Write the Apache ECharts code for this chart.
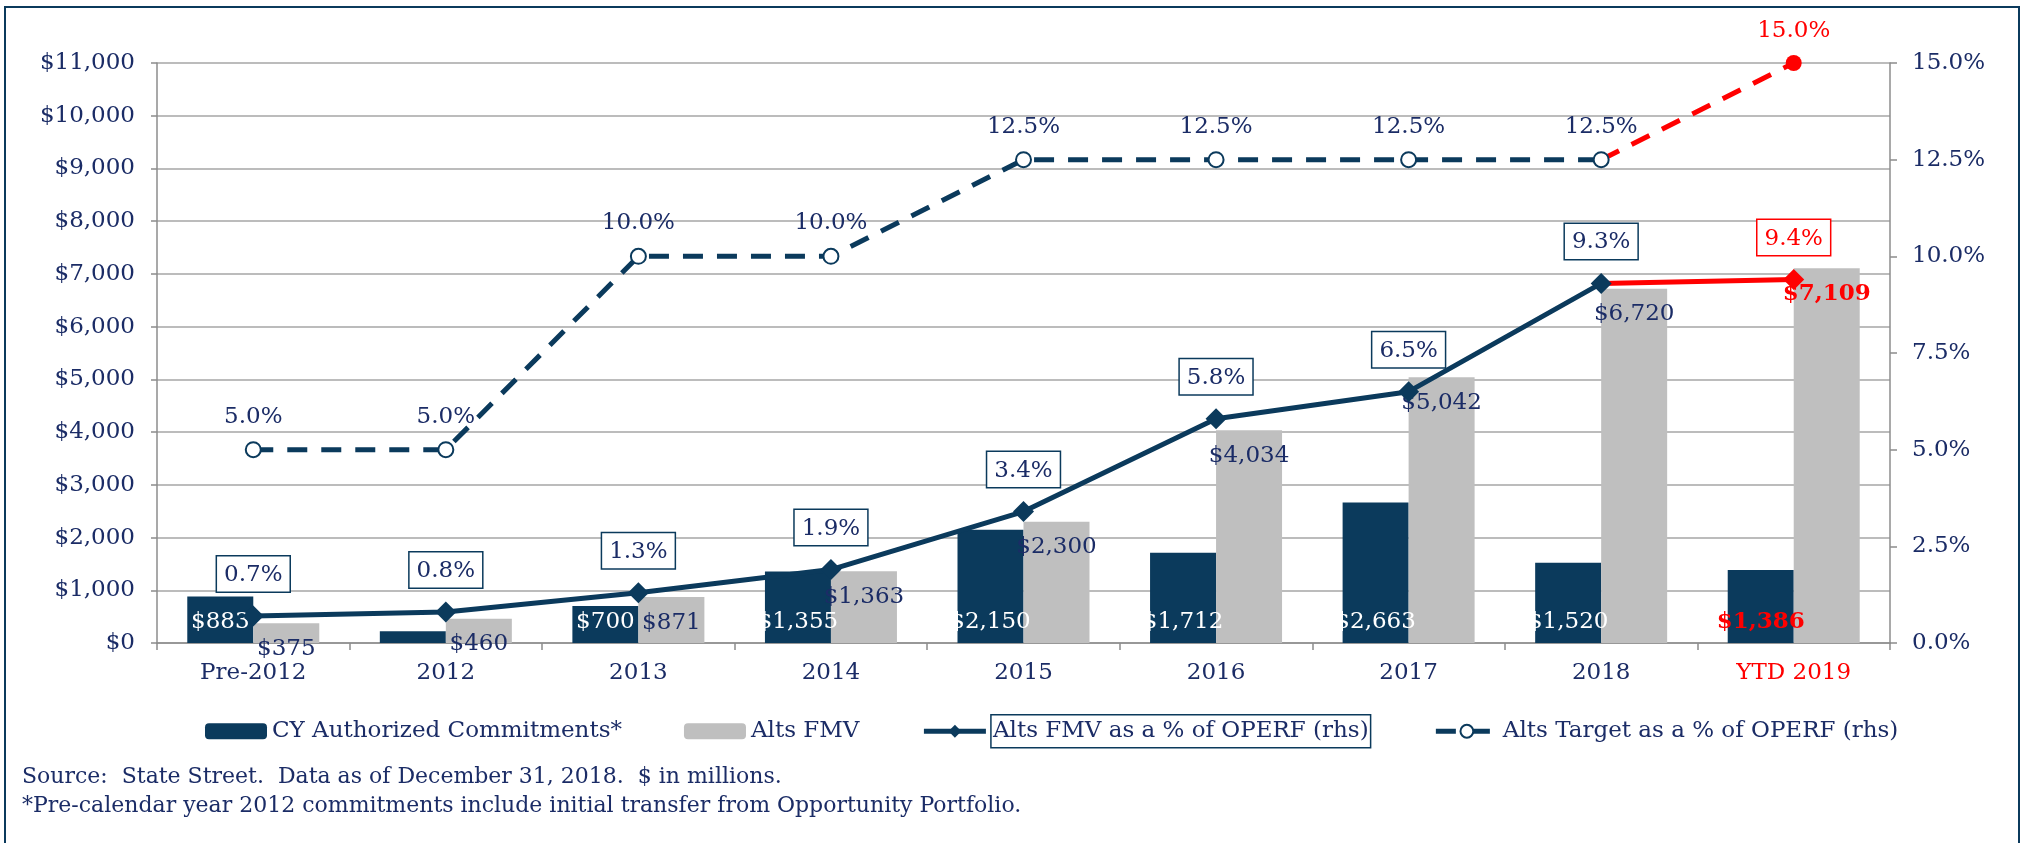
<!DOCTYPE html>
<html>
<head>
<meta charset="utf-8">
<script src="https://cdn.jsdelivr.net/npm/echarts@6/dist/echarts.min.js"></script>
<style>
html, body { margin: 0; padding: 0; background: #fff; }
#chart { width: 2023px; height: 843px; }
</style>
</head>
<body>
<div id="chart"></div>
<script>
var categories = ["Pre-2012", "2012", "2013", "2014", "2015", "2016", "2017", "2018", "YTD 2019"];
var commitments = [883, 225, 700, 1355, 2150, 1712, 2663, 1520, 1386];
var altsFmv = [375, 460, 871, 1363, 2300, 4034, 5042, 6720, 7109];
var fmvPct = [0.7, 0.8, 1.3, 1.9, 3.4, 5.8, 6.5, 9.3, 9.4];
var targetPct = [5.0, 5.0, 10.0, 10.0, 12.5, 12.5, 12.5, 12.5, 15.0];
var seriesNames = ["CY Authorized Commitments*", "Alts FMV", "Alts FMV as a % of OPERF (rhs)", "Alts Target as a % of OPERF (rhs)"];
var footnotes = [
	"Source:  State Street.  Data as of December 31, 2018.  $ in millions.",
	"*Pre-calendar year 2012 commitments include initial transfer from Opportunity Portfolio."
];

var NAVY = "#0b3a5c";
var TEXT = "#1b2c66";
var GRAY = "#bfbfbf";
var RED = "#ff0000";
var FONT = "DejaVu Serif";
var SIZE = 23;
var last = categories.length - 1;

function money(v) {
	return "$" + v.toLocaleString("en-US");
}

function pct(v) {
	return v.toFixed(1) + "%";
}

// navy part up to 2018, red part for the YTD segment
function headPart(arr) {
	return arr.map(function (v, i) {
		return i < last ? v : "-";
	});
}

function tailPart(arr, lastSymbol) {
	return arr.map(function (v, i) {
		if (i === last - 1) {
			return { value: v, symbol: "none", label: { show: false } };
		}
		if (i === last) {
			return { value: v, symbol: lastSymbol };
		}
		return "-";
	});
}

var chart = echarts.init(document.getElementById("chart"));

var option = {
	animation: false,
	textStyle: { fontFamily: FONT },
	grid: { left: 157, right: 133, top: 63, bottom: 200 },
	legend: {
		left: 200,
		top: 709,
		itemWidth: 62,
		itemHeight: 16,
		itemGap: 62,
		lineStyle: { width: 5 },
		textStyle: { fontFamily: FONT, fontSize: SIZE, color: TEXT },
		data: [
			{ name: seriesNames[0] },
			{ name: seriesNames[1] },
			{ name: seriesNames[2], textStyle: { borderColor: NAVY, borderWidth: 1.5, padding: [6, 2, 4, 2] } },
			{ name: seriesNames[3] }
		]
	},
	xAxis: {
		type: "category",
		data: categories.map(function (c, i) {
			return i === last ? { value: c, textStyle: { color: RED } } : c;
		}),
		axisLine: { lineStyle: { color: "#8c8c8c", width: 1.5 } },
		axisTick: { show: true, length: 7, lineStyle: { color: "#8c8c8c", width: 1.5 } },
		axisLabel: { margin: 19, fontSize: SIZE, color: TEXT, fontFamily: FONT },
		splitLine: { show: false }
	},
	yAxis: [
		{
			type: "value",
			min: 0,
			max: 11000,
			interval: 1000,
			axisLine: { show: true, lineStyle: { color: "#8c8c8c", width: 1.5 } },
			axisTick: { show: true, length: 6, lineStyle: { color: "#8c8c8c", width: 1.5 } },
			axisLabel: { margin: 22, fontSize: SIZE, color: TEXT, fontFamily: FONT, formatter: money },
			splitLine: { show: true, lineStyle: { color: "#a6a6a6", width: 1.5 } }
		},
		{
			type: "value",
			min: 0,
			max: 15,
			interval: 2.5,
			position: "right",
			axisLine: { show: true, lineStyle: { color: "#8c8c8c", width: 1.5 } },
			axisTick: { show: true, length: 7, lineStyle: { color: "#8c8c8c", width: 1.5 } },
			axisLabel: { margin: 22, fontSize: SIZE, color: TEXT, fontFamily: FONT, formatter: pct },
			splitLine: { show: false }
		}
	],
	series: [
		{
			name: seriesNames[0],
			type: "bar",
			barWidth: 66,
			barGap: "0%",
			itemStyle: { color: NAVY },
			label: {
				show: true,
				position: "insideBottom",
				distance: 9,
				color: "#fff",
				fontSize: SIZE,
				fontFamily: FONT,
				formatter: function (p) { return money(p.value); }
			},
			data: commitments.map(function (v, i) {
				return i === last ? { value: v, label: { color: RED, fontWeight: "bold" } } : v;
			})
		},
		{
			name: seriesNames[1],
			type: "bar",
			barWidth: 66,
			barGap: "0%",
			itemStyle: { color: GRAY },
			label: {
				show: true,
				position: "insideTop",
				distance: 14,
				color: TEXT,
				fontSize: SIZE,
				fontFamily: FONT,
				formatter: function (p) { return money(p.value); }
			},
			data: altsFmv.map(function (v, i) {
				return i === last ? { value: v, label: { color: RED, fontWeight: "bold" } } : v;
			})
		},
		{
			name: seriesNames[2],
			type: "line",
			yAxisIndex: 1,
			z: 5,
			symbol: "diamond",
			symbolSize: [21, 21],
			itemStyle: { color: NAVY },
			lineStyle: { color: NAVY, width: 5 },
			label: {
				show: true,
				position: "top",
				distance: 14,
				color: TEXT,
				fontSize: SIZE,
				fontFamily: FONT,
				backgroundColor: "#fff",
				borderColor: NAVY,
				borderWidth: 1.5,
				padding: [7, 7, 5, 7],
				formatter: function (p) { return pct(p.value); }
			},
			data: headPart(fmvPct)
		},
		{
			name: "fmvYtd",
			type: "line",
			yAxisIndex: 1,
			z: 5,
			symbolSize: [21, 21],
			itemStyle: { color: RED },
			lineStyle: { color: RED, width: 5 },
			label: {
				show: true,
				position: "top",
				distance: 14,
				color: RED,
				fontSize: SIZE,
				fontFamily: FONT,
				backgroundColor: "#fff",
				borderColor: RED,
				borderWidth: 1.5,
				padding: [7, 7, 5, 7],
				formatter: function (p) { return pct(p.value); }
			},
			data: tailPart(fmvPct, "diamond")
		},
		{
			name: seriesNames[3],
			type: "line",
			yAxisIndex: 1,
			z: 4,
			symbol: "emptyCircle",
			symbolSize: 15,
			itemStyle: { color: NAVY, borderWidth: 1.5 },
			lineStyle: { color: NAVY, width: 5, type: [20, 14] },
			label: {
				show: true,
				position: "top",
				distance: 13,
				color: TEXT,
				fontSize: SIZE,
				fontFamily: FONT,
				formatter: function (p) { return pct(p.value); }
			},
			data: headPart(targetPct)
		},
		{
			name: "targetYtd",
			type: "line",
			yAxisIndex: 1,
			z: 4,
			symbolSize: 16,
			itemStyle: { color: RED },
			lineStyle: { color: RED, width: 5, type: [20, 14] },
			label: {
				show: true,
				position: "top",
				distance: 12,
				color: RED,
				fontSize: SIZE,
				fontFamily: FONT,
				formatter: function (p) { return pct(p.value); }
			},
			data: tailPart(targetPct, "circle")
		}
	],
	graphic: [
		{
			type: "rect",
			silent: true,
			shape: { x: 5, y: 7, width: 2014, height: 900 },
			style: { fill: "none", stroke: NAVY, lineWidth: 2 }
		},
		{
			type: "text",
			left: 22,
			top: 766,
			style: { text: footnotes[0], fill: TEXT, font: "22px 'DejaVu Serif'" }
		},
		{
			type: "text",
			left: 22,
			top: 795,
			style: { text: footnotes[1], fill: TEXT, font: "22px 'DejaVu Serif'" }
		}
	]
};

chart.setOption(option);
</script>
</body>
</html>
